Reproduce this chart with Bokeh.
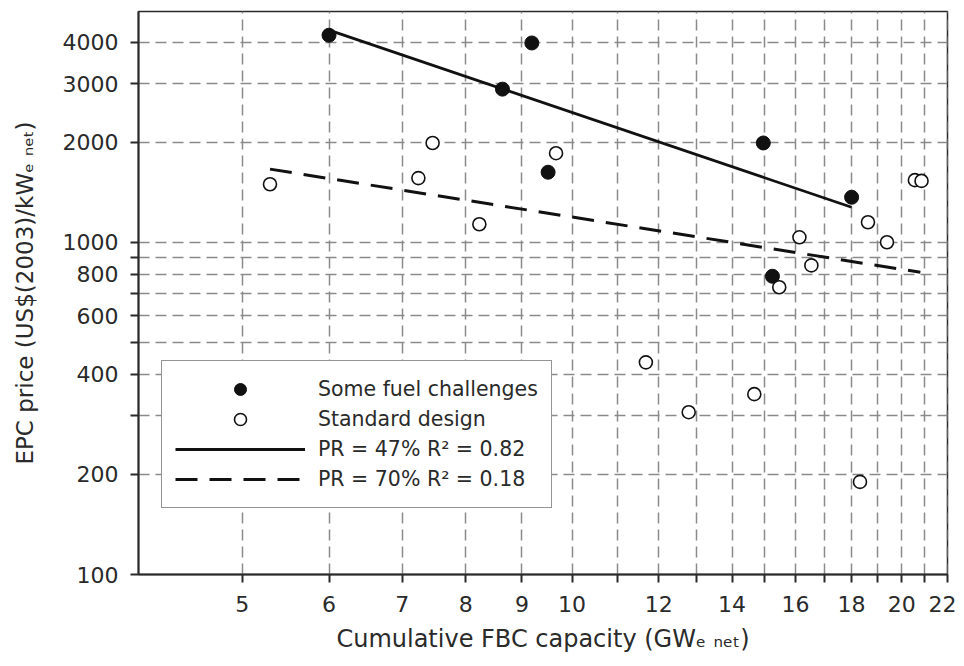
from bokeh.plotting import figure
from bokeh.models import Range1d, FixedTicker, Legend, LegendItem
from bokeh.embed import file_html
from bokeh.resources import INLINE

# ---- data ----
fuel_x = [6.0, 9.19, 8.64, 9.51, 14.95, 18.0, 15.24]
fuel_y = [4200, 3980, 2890, 1625, 1990, 1366, 790]

std_x = [5.30, 7.46, 7.24, 8.23, 9.67, 16.13, 16.54, 15.46, 18.63, 19.39, 20.56, 20.85, 11.68, 12.78, 14.67, 18.32]
std_y = [1495, 1990, 1560, 1133, 1854, 1035, 852, 732, 1149, 1000, 1538, 1530, 435, 308, 349, 190]

fit47_x = [6.0, 18.0]
fit47_y = [4350, 1275]
fit70_x = [5.3, 20.8]
fit70_y = [1660, 812]

x_ticks = [5, 6, 7, 8, 9, 10, 11, 12, 13, 14, 15, 16, 17, 18, 19, 20, 21, 22]
x_tick_labels = ["5", "6", "7", "8", "9", "10", "", "12", "", "14", "", "16", "", "18", "", "20", "", "22"]
y_ticks = [100, 200, 300, 400, 500, 600, 700, 800, 900, 1000, 2000, 3000, 4000]
y_tick_labels = ["100", "200", "", "400", "", "600", "", "800", "", "1000", "2000", "3000", "4000"]

FONT = "DejaVu Sans"
DARK = "#2a2a2a"

p = figure(width=956, height=660, x_axis_type="log", y_axis_type="log",
           x_range=Range1d(4.02, 22.02), y_range=Range1d(100, 4950),
           output_backend="svg", toolbar_location=None,
           min_border_left=138, min_border_right=9, min_border_top=11, min_border_bottom=86)

p.outline_line_color = DARK
p.outline_line_width = 1.5
p.background_fill_color = "white"

for ax, ticks, labels in ((p.xaxis, x_ticks, x_tick_labels), (p.yaxis, y_ticks, y_tick_labels)):
    ax.ticker = FixedTicker(ticks=ticks, minor_ticks=[])
    ax.major_label_overrides = {t: l for t, l in zip(ticks, labels)}
    ax.major_tick_out = 8
    ax.major_tick_in = 0
    ax.minor_tick_out = 0
    ax.minor_tick_in = 0
    ax.axis_line_color = DARK
    ax.axis_line_width = 2
    ax.major_tick_line_color = DARK
    ax.major_tick_line_width = 2
    ax.major_label_text_font = FONT
    ax.major_label_text_font_size = "22px"
    ax.major_label_text_color = DARK
    ax.axis_label_text_font = FONT
    ax.axis_label_text_font_style = "normal"
    ax.axis_label_text_color = DARK

p.xaxis.axis_label_text_font_size = "24px"
p.yaxis.axis_label_text_font_size = "23px"
p.xaxis.major_label_standoff = 13
p.yaxis.major_label_standoff = 12
p.xaxis.axis_label = "Cumulative FBC capacity (GWₑ ₙₑₜ)"
p.yaxis.axis_label = "EPC price (US$(2003)/kWₑ ₙₑₜ)"
p.xaxis.axis_label_standoff = 10
p.yaxis.axis_label_standoff = 22

for g in (p.xgrid, p.ygrid):
    g.grid_line_color = "#8a8a8a"
    g.grid_line_width = 1.5
    g.grid_line_dash = "11 6"

r_solid = p.line(fit47_x, fit47_y, line_color="#111111", line_width=2.8)
r_dash = p.line(fit70_x, fit70_y, line_color="#111111", line_width=3, line_dash="22 12")
r_fuel = p.scatter(fuel_x, fuel_y, marker="circle", size=14, fill_color="#111111", line_color="#111111")
r_std = p.scatter(std_x, std_y, marker="circle", size=13, fill_color="white", line_color="#111111", line_width=1.6)

legend = Legend(items=[
    LegendItem(label="Some fuel challenges", renderers=[r_fuel]),
    LegendItem(label="Standard design", renderers=[r_std]),
    LegendItem(label="PR = 47% R² = 0.82", renderers=[r_solid]),
    LegendItem(label="PR = 70% R² = 0.18", renderers=[r_dash]),
], location=(23, 66))
legend.border_line_color = DARK
legend.border_line_width = 1.5
legend.background_fill_alpha = 1
legend.label_text_font = FONT
legend.label_text_font_size = "20.5px"
legend.label_text_color = DARK
legend.glyph_width = 130
legend.glyph_height = 30
legend.label_height = 24
legend.spacing = 0
legend.padding = 13
legend.margin = 0
legend.label_standoff = 13
p.add_layout(legend)

open("out.html", "w").write(file_html(p, INLINE))
